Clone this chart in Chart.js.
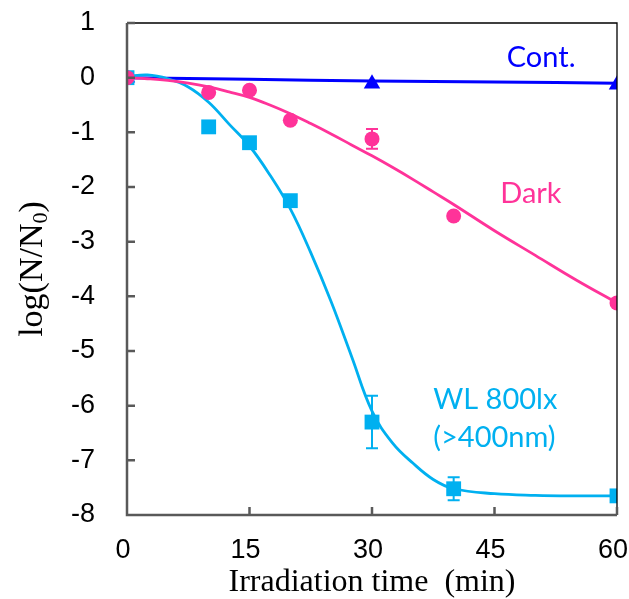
<!DOCTYPE html>
<html>
<head>
<meta charset="utf-8">
<script src="https://cdn.jsdelivr.net/npm/chart.js@4"></script>
<style>
  html, body { margin: 0; padding: 0; background: #fff; }
  #wrap { width: 629px; height: 599px; position: relative; }
</style>
</head>
<body>
<div id="wrap"><canvas id="chart"></canvas></div>
<script>
// measured points (min, log(N/N0))
const times = [0, 10, 15, 20, 30, 40, 60];
const darkLog = [0, -0.27, -0.23, -0.78, -1.12, -2.53, -4.12];
const darkErr = [0, 0, 0, 0, 0.18, 0, 0];
const wlLog = [0, -0.9, -1.19, -2.25, -6.3, -7.52, -7.65];
const wlErr = [0, 0, 0.06, 0, 0.48, 0.21, 0];
const contTimes = [0, 30, 60];
const contLog = [0, -0.11, -0.13];

// fitted curves
const fitTimes = [0, 2.5, 5, 7.5, 10, 12.5, 15, 17.5, 20, 22.5, 25, 27.5, 30, 32.5, 35, 37.5, 40, 45, 50, 55, 60];
const darkFit = [0, -0.02, -0.05, -0.1, -0.17, -0.26, -0.36, -0.5, -0.66, -0.84, -1.03, -1.23, -1.43, -1.64, -1.86, -2.09, -2.32, -2.8, -3.25, -3.7, -4.12];
const wlFit = [0.02, 0.05, -0.02, -0.17, -0.45, -0.85, -1.25, -1.78, -2.4, -3.2, -4.1, -5.1, -6.1, -6.68, -7.05, -7.35, -7.52, -7.61, -7.64, -7.65, -7.65];
const contFitTimes = [0, 15, 30, 45, 60];
const contFit = [0, -0.03, -0.06, -0.08, -0.1];

const xTicks = [0, 15, 30, 45, 60];
const yTicks = [1, 0, -1, -2, -3, -4, -5, -6, -7, -8];

const BLUE = '#0000ff';
const PINK = '#ff3399';
const CYAN = '#00b0f0';

const toXY = (xs, ys) => xs.map((x, i) => ({ x: x, y: ys[i] }));

// text labels next to the curves
const notes = [
  { text: 'Cont.', x: 46.5, y: 0.2, color: BLUE },
  { text: 'Dark', x: 45.7, y: -2.29, color: PINK },
  { text: 'WL 800lx', x: 37.5, y: -6.07, color: CYAN },
  { text: '(>400nm)', x: 37.5, y: -6.75, color: CYAN }
];

const frame = {
  id: 'frame',
  beforeDatasetsDraw(chart) {
    const { ctx, scales: { x, y } } = chart;
    ctx.save();
    // error bars
    const bars = [[darkLog, darkErr, PINK], [wlLog, wlErr, CYAN]];
    bars.forEach(([vals, errs, col]) => {
      ctx.strokeStyle = col;
      ctx.lineWidth = 2;
      times.forEach((t, i) => {
        if (!errs[i]) return;
        const px = x.getPixelForValue(t);
        const y1 = y.getPixelForValue(vals[i] + errs[i]);
        const y2 = y.getPixelForValue(vals[i] - errs[i]);
        ctx.beginPath();
        ctx.moveTo(px, y1); ctx.lineTo(px, y2);
        ctx.moveTo(px - 6, y1); ctx.lineTo(px + 6, y1);
        ctx.moveTo(px - 6, y2); ctx.lineTo(px + 6, y2);
        ctx.stroke();
      });
    });
    ctx.restore();
  },
  afterDraw(chart) {
    const { ctx, chartArea: a, scales: { x, y } } = chart;
    ctx.save();
    // top / right thin box
    ctx.strokeStyle = '#000';
    ctx.lineWidth = 1.3;
    ctx.beginPath();
    ctx.moveTo(a.left, a.top); ctx.lineTo(a.right, a.top); ctx.lineTo(a.right, a.bottom);
    ctx.stroke();
    // left / bottom axes with inward ticks
    ctx.strokeStyle = '#595959';
    ctx.lineWidth = 2.5;
    ctx.beginPath();
    ctx.moveTo(a.left, a.top); ctx.lineTo(a.left, a.bottom); ctx.lineTo(a.right, a.bottom);
    yTicks.forEach(v => {
      const py = y.getPixelForValue(v);
      ctx.moveTo(a.left, py); ctx.lineTo(a.left + 8, py);
    });
    xTicks.forEach(v => {
      const px = x.getPixelForValue(v);
      ctx.moveTo(px, a.bottom); ctx.lineTo(px, a.bottom - 8);
    });
    ctx.stroke();

    // curve labels
    ctx.font = '29px Lato, "Open Sans", sans-serif';
    ctx.textAlign = 'left';
    ctx.textBaseline = 'alphabetic';
    notes.forEach(n => {
      ctx.fillStyle = n.color;
      ctx.fillText(n.text, x.getPixelForValue(n.x), y.getPixelForValue(n.y));
    });

    // y axis title with subscript
    ctx.fillStyle = '#000';
    ctx.translate(33, (a.top + a.bottom) / 2);
    ctx.rotate(-Math.PI / 2);
    const big = '34px "Liberation Serif", "Times New Roman", serif';
    const small = '22px "Liberation Serif", "Times New Roman", serif';
    ctx.font = big;
    const w1 = ctx.measureText('log(N/N').width;
    const w3 = ctx.measureText(')').width;
    ctx.font = small;
    const w2 = ctx.measureText('0').width;
    let cx = -(w1 + w2 + w3) / 2;
    ctx.textBaseline = 'middle';
    ctx.font = big;
    ctx.fillText('log(N/N', cx, 0);
    cx += w1;
    ctx.font = small;
    ctx.fillText('0', cx, 8);
    cx += w2;
    ctx.font = big;
    ctx.fillText(')', cx, 0);
    ctx.restore();
  }
};

new Chart(document.getElementById('chart'), {
  type: 'scatter',
  data: {
    datasets: [
      {
        label: 'Dark',
        data: toXY(times, darkLog),
        pointStyle: 'circle',
        pointRadius: 7.5,
        backgroundColor: PINK,
        borderColor: PINK,
        borderWidth: 0
      },
      {
        label: 'WL 800lx',
        data: toXY(times, wlLog),
        pointStyle: 'rect',
        pointRadius: 10.5,
        backgroundColor: CYAN,
        borderColor: CYAN,
        borderWidth: 0
      },
      {
        label: 'Cont.',
        data: toXY(contTimes, contLog),
        pointStyle: 'triangle',
        pointRadius: 9.5,
        backgroundColor: BLUE,
        borderColor: BLUE,
        borderWidth: 0
      },
      {
        label: 'Dark fit',
        data: toXY(fitTimes, darkFit),
        showLine: true,
        pointRadius: 0,
        borderColor: PINK,
        borderWidth: 2.8,
        tension: 0.4
      },
      {
        label: 'WL fit',
        data: toXY(fitTimes, wlFit),
        showLine: true,
        pointRadius: 0,
        borderColor: CYAN,
        borderWidth: 2.8,
        tension: 0.4
      },
      {
        label: 'Cont fit',
        data: toXY(contFitTimes, contFit),
        showLine: true,
        pointRadius: 0,
        borderColor: BLUE,
        borderWidth: 3,
        tension: 0.4
      }
    ]
  },
  options: {
    responsive: true,
    maintainAspectRatio: false,
    animation: false,
    events: [],
    layout: { padding: { left: 0, right: 12, top: 23, bottom: 0 } },
    plugins: {
      legend: { display: false },
      tooltip: { enabled: false }
    },
    scales: {
      x: {
        type: 'linear',
        min: 0,
        max: 60,
        afterBuildTicks: s => { s.ticks = xTicks.map(v => ({ value: v })); },
        afterFit: s => { s.height = 84; s.paddingLeft = 0; s.paddingRight = 0; },
        grid: { display: false, drawTicks: false },
        border: { display: false },
        ticks: {
          color: '#000',
          padding: 19,
          labelOffset: -4,
          font: { family: '"Liberation Sans", Arial, sans-serif', size: 27 }
        },
        title: {
          display: true,
          text: 'Irradiation time  (min)',
          color: '#000',
          padding: { top: 0, bottom: 0 },
          font: { family: '"Liberation Serif", "Times New Roman", serif', size: 32, lineHeight: 1 }
        }
      },
      y: {
        type: 'linear',
        min: -8,
        max: 1,
        afterBuildTicks: s => { s.ticks = yTicks.map(v => ({ value: v })); },
        afterFit: s => { s.width = 127; s.paddingTop = 0; s.paddingBottom = 0; },
        grid: { display: false, drawTicks: false },
        border: { display: false },
        ticks: {
          color: '#000',
          padding: 32,
          font: { family: '"Liberation Sans", Arial, sans-serif', size: 27 }
        }
      }
    }
  },
  plugins: [frame]
});
</script>
</body>
</html>
